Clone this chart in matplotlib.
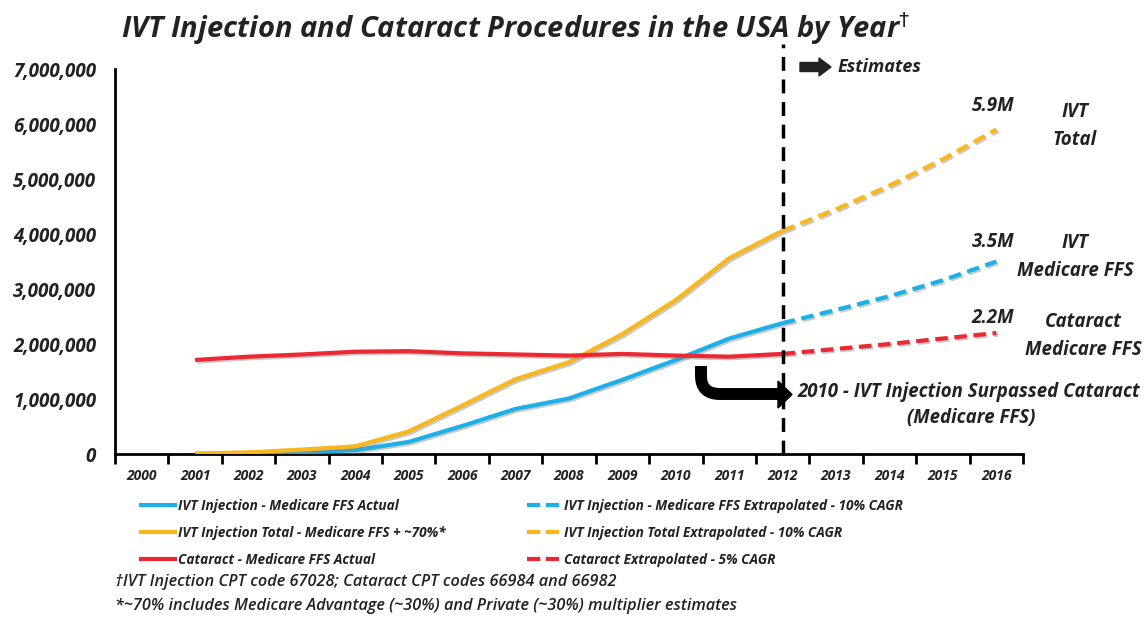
import numpy as np
import matplotlib
matplotlib.use('Agg')
import matplotlib.pyplot as plt
import matplotlib.patheffects as pe
from matplotlib.lines import Line2D
from matplotlib.path import Path
from matplotlib.patches import PathPatch, Polygon, FancyArrow
from matplotlib.ticker import FuncFormatter, FixedLocator

# Годы по оси X (категории)
years = list(range(2000, 2017))

# Фактические данные, млн процедур (2001-2012)
actual_years = list(range(2001, 2013))
ivt_ffs = [0.0, 0.01, 0.03, 0.07, 0.22, 0.51, 0.82, 1.01, 1.35, 1.71, 2.10, 2.38]
ivt_total = [0.01, 0.03, 0.08, 0.14, 0.41, 0.88, 1.36, 1.67, 2.18, 2.80, 3.56, 4.06]
cataract = [1.71, 1.77, 1.81, 1.86, 1.87, 1.83, 1.81, 1.79, 1.82, 1.79, 1.77, 1.82]

# Оценки (2012-2016)
est_years = list(range(2012, 2017))
ivt_ffs_est = [2.38, 2.62, 2.87, 3.16, 3.5]
ivt_total_est = [4.06, 4.45, 4.88, 5.36, 5.9]
cataract_est = [1.82, 1.91, 2.00, 2.10, 2.2]

BLUE = '#1cb0e8'
YELLOW = '#f7b71d'
RED = '#ec2833'
INK = '#222222'

W, H = 1147, 618

def fx(x):
    return x / W

def fy(y):
    return 1 - y / H

def idx(yrs):
    return [years.index(y) for y in yrs]

def mln(vals):
    return np.array(vals) * 1e6

FONT = 'Open Sans'
bi = dict(fontfamily=FONT, fontweight='bold', fontstyle='italic', color=INK)

fig = plt.figure(figsize=(W / 100, H / 100), dpi=100)
ax = fig.add_axes([fx(115), fy(454), fx(1023) - fx(115), fy(69) - fy(454)])

shadow = [pe.SimpleLineShadow(offset=(1.2, -1.2), shadow_color='#888888', alpha=0.45), pe.Normal()]

series = [
    (actual_years, ivt_ffs, est_years, ivt_ffs_est, BLUE),
    (actual_years, ivt_total, est_years, ivt_total_est, YELLOW),
    (actual_years, cataract, est_years, cataract_est, RED),
]
for xa, ya, xe, ye, c in series:
    ax.plot(idx(xa), mln(ya), color=c, lw=3, solid_capstyle='butt', path_effects=shadow, zorder=3)
    ax.plot(idx(xe), mln(ye), color=c, lw=3, dashes=(3, 1.6), dash_capstyle='butt',
            path_effects=shadow, zorder=3)

ax.set_xlim(-0.5, len(years) - 0.5)
ax.set_ylim(0, 7e6)

# Оси
for s in ['top', 'right']:
    ax.spines[s].set_visible(False)
for s in ['left', 'bottom']:
    ax.spines[s].set_linewidth(2)
    ax.spines[s].set_color('black')

ax.yaxis.set_major_locator(FixedLocator(np.arange(0, 7e6 + 1, 1e6)))
ax.yaxis.set_major_formatter(FuncFormatter(lambda v, p: f'{int(v):,}'))
ax.tick_params(axis='y', length=0, pad=13.5)
for lab in ax.get_yticklabels():
    lab.set(fontsize=13.5, **bi)

# Деления между категориями, подписи по центру
ax.xaxis.set_major_locator(FixedLocator(np.arange(-0.5, len(years), 1.0)))
ax.xaxis.set_major_formatter(FuncFormatter(lambda v, p: ''))
ax.xaxis.set_minor_locator(FixedLocator(np.arange(len(years))))
ax.set_xticklabels([str(y) for y in years], minor=True)
ax.tick_params(axis='x', which='major', length=7, width=2, direction='out')
ax.tick_params(axis='x', which='minor', length=0, pad=11)
for lab in ax.get_xticklabels(minor=True):
    lab.set(fontsize=10, **bi)

# Граница факт/оценка
x12 = years.index(2012)
ax.plot([x12, x12], [0, 7.45e6], color='black', lw=2.5, dashes=(4, 2.5), clip_on=False, zorder=4)

fig.text(fx(516), fy(29), 'IVT Injection and Cataract Procedures in the USA by Year$^{\\dagger}$',
         ha='center', va='center', fontsize=21, **bi)

# Стрелка "Estimates"
fig.patches.append(FancyArrow(
    fx(800), fy(67), fx(31), 0, width=9 / H, head_width=18 / H, head_length=fx(12),
    length_includes_head=True, transform=fig.transFigure, color=INK))
fig.text(fx(838), fy(67), 'Estimates', ha='left', va='center', fontsize=13, **bi)

# Подписи значений 2016
lab_kw = dict(ha='center', va='center', fontsize=13.5, linespacing=1.5, **bi)
fig.text(fx(993), fy(106), '5.9M', **lab_kw)
fig.text(fx(1075), fy(126), 'IVT\nTotal', **lab_kw)
fig.text(fx(993), fy(242), '3.5M', **lab_kw)
fig.text(fx(1075), fy(257), 'IVT\nMedicare FFS', **lab_kw)
fig.text(fx(993), fy(318), '2.2M', **lab_kw)
fig.text(fx(1083), fy(336), 'Cataract\nMedicare FFS', **lab_kw)

# Изогнутая стрелка 2010
verts = [(701, 366), (701, 376), (701, 394), (720, 394), (779, 394)]
codes = [Path.MOVETO, Path.LINETO, Path.CURVE3, Path.CURVE3, Path.LINETO]
bend = Path([(fx(a), fy(b)) for a, b in verts], codes)
fig.patches.append(PathPatch(bend, transform=fig.transFigure, fill=False, lw=8.6,
                             edgecolor='black', capstyle='butt', joinstyle='round'))
head = [(778, 381), (778, 408), (792, 394.5)]
fig.patches.append(Polygon([(fx(a), fy(b)) for a, b in head], closed=True,
                           transform=fig.transFigure, color='black'))
fig.text(fx(797), fy(392), '2010 - IVT Injection Surpassed Cataract', ha='left', va='center',
         fontsize=13.4, **bi)
fig.text(fx(971), fy(418), '(Medicare FFS)', ha='center', va='center', fontsize=13.4, **bi)

# Легенда
handles = [
    Line2D([], [], color=BLUE, lw=3),
    Line2D([], [], color=YELLOW, lw=3),
    Line2D([], [], color=RED, lw=3),
    Line2D([], [], color=BLUE, lw=3, dashes=(3.2, 1.3)),
    Line2D([], [], color=YELLOW, lw=3, dashes=(3.2, 1.3)),
    Line2D([], [], color=RED, lw=3, dashes=(3.2, 1.3)),
]
labels = [
    'IVT Injection - Medicare FFS Actual',
    'IVT Injection Total - Medicare FFS + ~70%*',
    'Cataract - Medicare FFS Actual',
    'IVT Injection - Medicare FFS Extrapolated - 10% CAGR',
    'IVT Injection Total Extrapolated - 10% CAGR',
    'Cataract Extrapolated - 5% CAGR',
]
leg = fig.legend(handles, labels, ncol=2, loc='upper left', bbox_to_anchor=(fx(129), fy(487)),
                 frameon=False, handlelength=2.45, handletextpad=0.25, labelspacing=0.95,
                 columnspacing=6.0,
                 prop=dict(family=FONT, weight='bold', style='italic', size=9.8))
for t in leg.get_texts():
    t.set_color(INK)

# Сноски
note_kw = dict(ha='left', va='center', fontsize=11.7, fontfamily=FONT, fontweight='semibold',
               fontstyle='italic', color=INK)
fig.text(fx(115), fy(582), '\u2020IVT Injection CPT code 67028; Cataract CPT codes 66984 and 66982', **note_kw)
fig.text(fx(115), fy(606), '*~70% includes Medicare Advantage (~30%) and Private (~30%) multiplier estimates',
         **note_kw)

fig.savefig('out.png', dpi=100)
